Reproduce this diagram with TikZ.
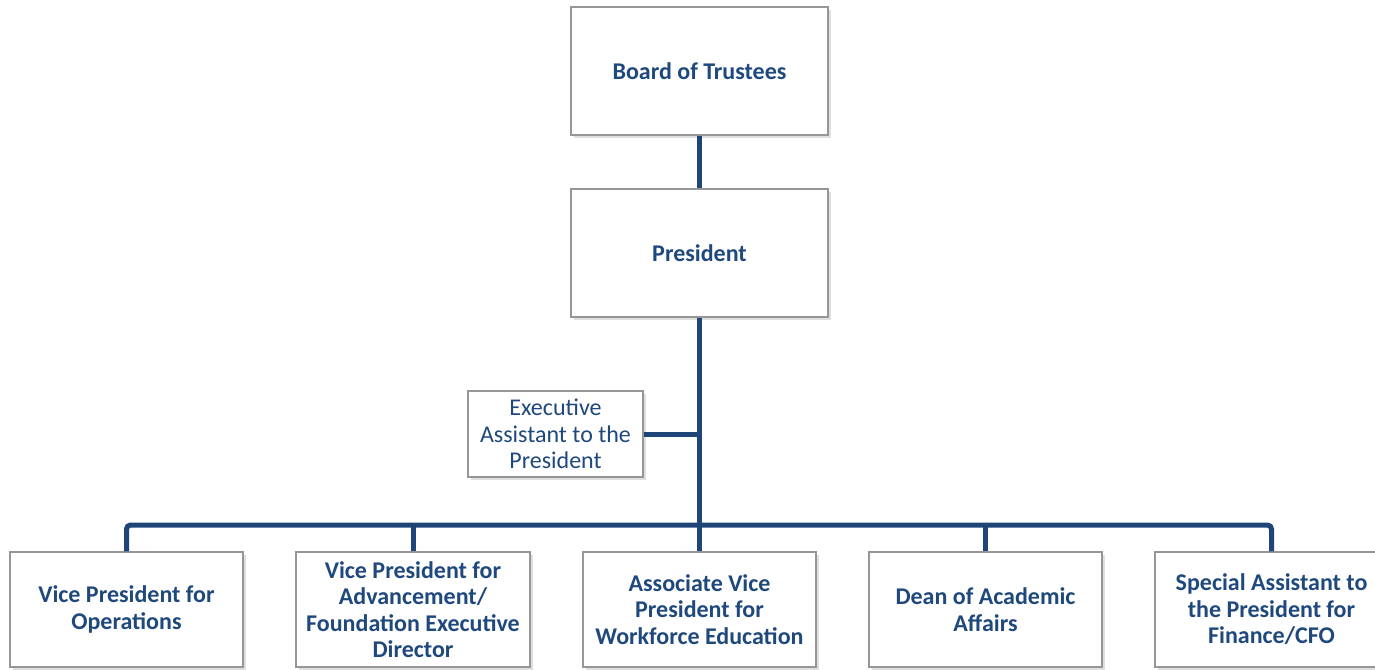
\documentclass[tikz,border=0pt]{standalone}
\usepackage{fontspec}
\setmainfont{Carlito}
\usetikzlibrary{shadows}
\definecolor{txtblue}{RGB}{31,73,125}
\definecolor{lineblue}{RGB}{31,69,120}
\definecolor{bordergray}{RGB}{150,150,150}
\begin{document}
\begin{tikzpicture}[x=0.75pt,y=-0.75pt,
  box/.style={draw=bordergray, line width=0.9pt, fill=white, align=center,
    text=txtblue, font=\fontsize{18}{19.9}\selectfont\bfseries, inner sep=0pt,
    drop shadow={opacity=0.25, shadow xshift=2pt, shadow yshift=-2.5pt}},
  smallbox/.style={box, font=\fontsize{18}{19.9}\selectfont},
  conn/.style={draw=lineblue, line width=3.75pt}]
\useasboundingbox (0,0) rectangle (1375,669);
\fill[white] (0,0) rectangle (1375,669);
\node[box, minimum width=192.75pt, minimum height=96pt] (board) at (699.5,71) {Board of Trustees};
\node[box, minimum width=192.75pt, minimum height=96pt] (pres) at (699.5,253) {President};
\node[smallbox, minimum width=131.25pt, minimum height=64.5pt] (exec) at (555.5,434) {Executive\\Assistant to the\\President};
\node[box, minimum width=174.75pt, minimum height=86.25pt] (b1) at (126.5,609.5) {Vice President for\\Operations};
\node[box, minimum width=175.5pt, minimum height=86.25pt] (b2) at (413,609.5) {Vice President for\\Advancement/\\Foundation Executive\\Director};
\node[box, minimum width=174.75pt, minimum height=86.25pt] (b3) at (699.5,609.5) {Associate Vice\\President for\\Workforce Education};
\node[box, minimum width=174.75pt, minimum height=86.25pt] (b4) at (985.5,609.5) {Dean of Academic\\Affairs};
\node[box, minimum width=174.75pt, minimum height=86.25pt] (b5) at (1271.5,609.5) {Special Assistant to\\the President for\\Finance/CFO};
\coordinate (bar) at (699,525);
\draw[conn] (board.south) -- (pres.north);
\draw[conn] (pres.south) -- (b3.north);
\draw[conn] (exec.east) -- (exec.east -| pres.south);
\draw[conn, rounded corners=3pt] (b1.north) |- (b5.north |- bar) -- (b5.north);
\draw[conn] (b2.north) -- (b2.north |- bar);
\draw[conn] (b4.north) -- (b4.north |- bar);
\end{tikzpicture}
\end{document}
